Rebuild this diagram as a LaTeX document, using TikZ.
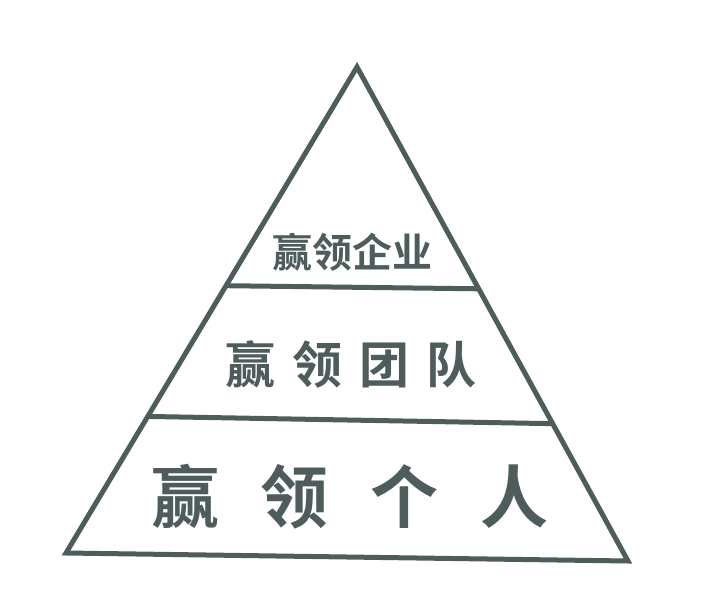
\documentclass[tikz,border=0pt]{standalone}
\usepackage{fontspec}
\newfontfamily\cjk{Noto Sans CJK SC Bold}
\usetikzlibrary{calc}
\definecolor{pyrgray}{HTML}{4E5C5C}

\begin{document}
\begin{tikzpicture}
            [
            x=1pt, y=-1pt,
            edge/.style={draw=pyrgray, line width=5pt, line join=miter},
            level/.style={text=pyrgray, inner sep=0pt,
                font=\cjk\fontsize{#1}{#1}\selectfont}
            ]
            \useasboundingbox (0,0) rectangle (708,612);
            \coordinate (top) at (357,67);
            \coordinate (bl) at (66,553);
            \coordinate (br) at (628,561);

            % Pyramid outline
            \draw [edge] (top) -- (bl) -- (br) -- cycle;

            % Divider lines
            \coordinate (l1) at ($(top)!0.450!(bl)$);
            \coordinate (r1) at ($(top)!0.449!(br)$);
            \coordinate (l2) at ($(top)!0.719!(bl)$);
            \coordinate (r2) at ($(top)!0.722!(br)$);
            \foreach \i/\j in {l1/r1,l2/r2}
            \draw [edge] (\i) -- (\j);

            \node (firm) [level=40pt] at (352,252) {赢领企业};
            \node (team) [level=50pt] at (351,364)
                {赢\hspace{17pt}领\hspace{17pt}团\hspace{17pt}队};
            \node (self) [level=68pt] at (350,497)
                {赢\hspace{42pt}领\hspace{42pt}个\hspace{42pt}人};
        \end{tikzpicture}
\end{document}
